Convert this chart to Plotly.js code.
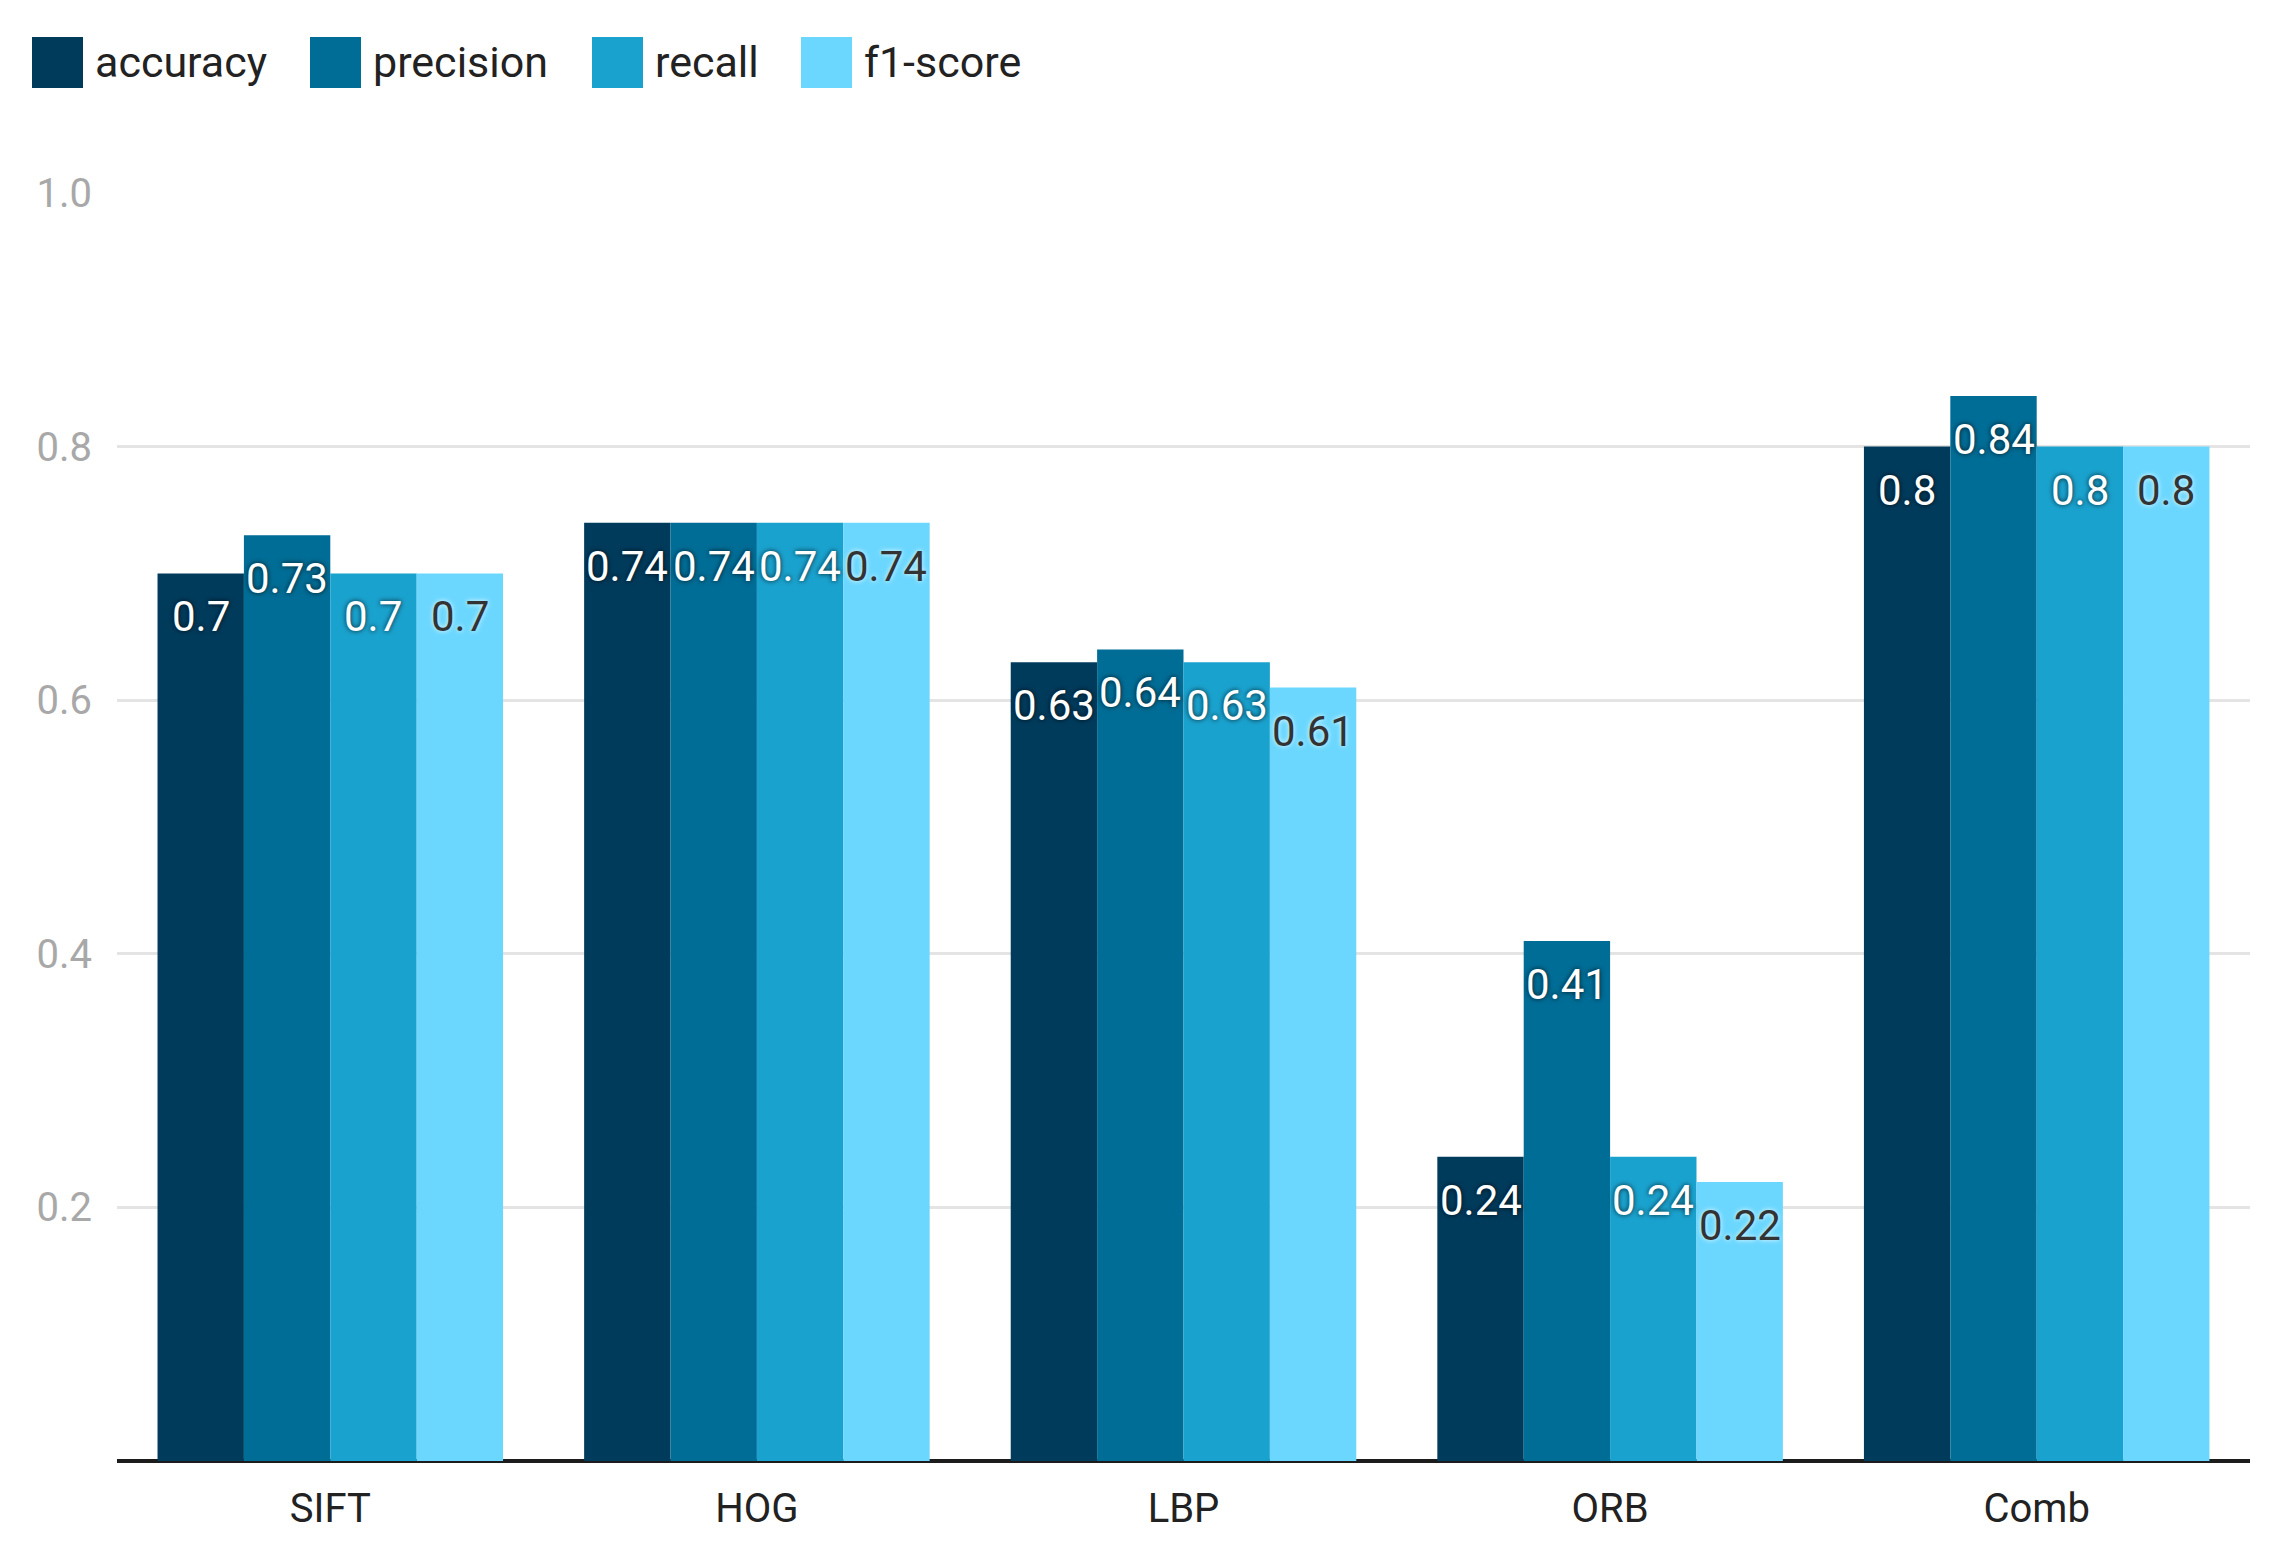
<!DOCTYPE html>
<html>
<head>
<meta charset="utf-8">
<script src="https://cdn.plot.ly/plotly-3.0.1.min.js"></script>
<style>
  body { margin: 0; background: #fff; }
  #chart { width: 2279px; height: 1548px; }
</style>
</head>
<body>
<div id="chart"></div>
<script>
// Data
var methods = ['SIFT', 'HOG', 'LBP', 'ORB', 'Comb'];
var metrics = ['accuracy', 'precision', 'recall', 'f1-score'];
var accuracy = [0.7, 0.74, 0.63, 0.24, 0.8];
var precision = [0.73, 0.74, 0.64, 0.41, 0.84];
var recall = [0.7, 0.74, 0.63, 0.24, 0.8];
var f1_score = [0.7, 0.74, 0.61, 0.22, 0.8];
var y_ticks = [0.2, 0.4, 0.6, 0.8, 1.0];

var series = [accuracy, precision, recall, f1_score];
var colors = ['#003b5c', '#006d96', '#1aa2ce', '#6bd7ff'];
var label_colors = ['#ffffff', '#ffffff', '#ffffff', '#333333'];
var label_shadows = [
  '0px 0px 5px rgba(0,0,0,0.8)',
  '0px 0px 5px rgba(0,0,0,0.8)',
  '0px 0px 5px rgba(0,0,0,0.8)',
  '0px 0px 5px rgba(255,255,255,0.9)',
];

var FONT = 'Roboto, "Noto Sans", sans-serif';
var W = 2279, H = 1548;
var M = { l: 117, r: 29, t: 193, b: 87 };
var BARGAP = 0.19;

// figure pixels -> paper coords (for the hand-drawn legend)
function px(x) { return (x - M.l) / (W - M.l - M.r); }
function py(y) { return (H - M.b - y) / (H - M.t - M.b); }

var data = series.map(function (vals, i) {
  return {
    type: 'bar',
    name: metrics[i],
    x: methods,
    y: vals,
    marker: { color: colors[i], line: { width: 0 } },
    textposition: 'none',
    hoverinfo: 'x+y+name',
    showlegend: false,
  };
});

var shapes = [];
var annotations = [];

// Value labels, hung just below the top of each bar
var slot = (1 - BARGAP) / series.length;
series.forEach(function (vals, i) {
  vals.forEach(function (v, k) {
    annotations.push({
      xref: 'x', yref: 'y',
      x: k + (i - (series.length - 1) / 2) * slot,
      y: v,
      yanchor: 'top',
      xanchor: 'center',
      yshift: -17,
      text: String(v),
      showarrow: false,
      font: {
        family: FONT,
        size: 42,
        color: label_colors[i],
        shadow: label_shadows[i],
      },
    });
  });
});

// Legend: big square swatches + labels across the top
var legend_x = [32, 310, 592, 801];
metrics.forEach(function (m, i) {
  shapes.push({
    type: 'rect',
    xref: 'paper', yref: 'paper',
    x0: px(legend_x[i]), x1: px(legend_x[i] + 51),
    y0: py(88), y1: py(37),
    fillcolor: colors[i],
    line: { width: 0 },
  });
  annotations.push({
    xref: 'paper', yref: 'paper',
    x: px(legend_x[i] + 61), y: py(62),
    xanchor: 'left', yanchor: 'middle',
    text: m,
    showarrow: false,
    font: { family: FONT, size: 43, color: '#222222' },
  });
});

var layout = {
  width: W,
  height: H,
  margin: M,
  paper_bgcolor: '#ffffff',
  plot_bgcolor: '#ffffff',
  font: { family: FONT, size: 42, color: '#222222' },
  barmode: 'group',
  bargap: BARGAP,
  bargroupgap: 0,
  showlegend: false,
  xaxis: {
    type: 'category',
    showgrid: false,
    ticks: '',
    ticklabelstandoff: 20,
    tickfont: { family: FONT, size: 40, color: '#222222' },
    showline: false,
    zeroline: false,
  },
  yaxis: {
    range: [0, 1.0],
    tickvals: y_ticks,
    tickformat: '.1f',
    ticks: '',
    ticklabelstandoff: 24,
    tickfont: { family: FONT, size: 40, color: '#a8a8a8' },
    showgrid: true,
    gridcolor: '#e4e4e4',
    gridwidth: 3,
    zeroline: true,
    zerolinecolor: '#1c1c1c',
    zerolinewidth: 4,
    showline: false,
  },
  shapes: shapes,
  annotations: annotations,
};

Plotly.newPlot('chart', data, layout, { displayModeBar: false, responsive: false });
</script>
</body>
</html>
